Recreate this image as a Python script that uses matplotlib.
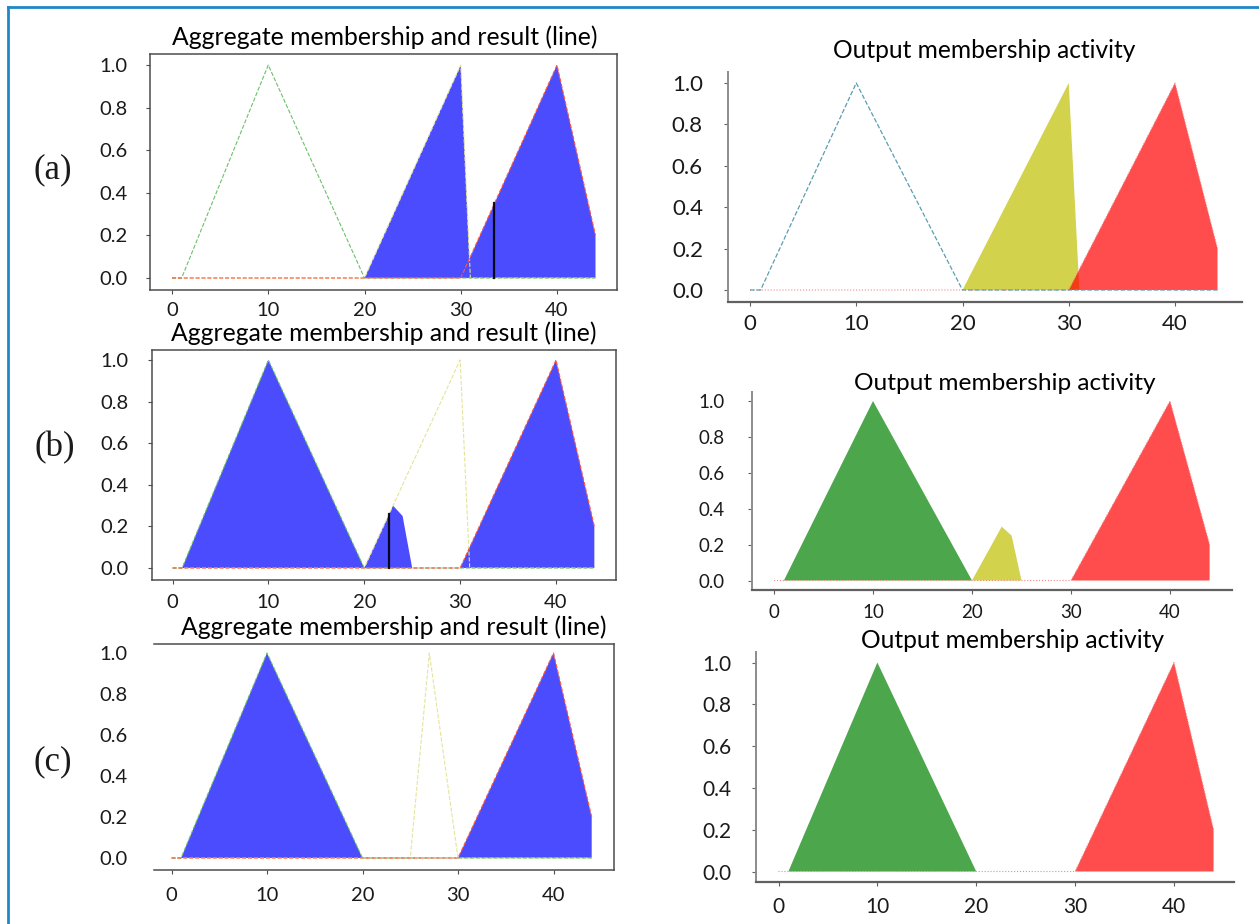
import matplotlib
matplotlib.use('Agg')
import matplotlib.pyplot as plt
from matplotlib.lines import Line2D

plt.rcParams['font.family'] = ['Lato', 'DejaVu Sans']

# ---------------- data ----------------
x_ticks = [0, 10, 20, 30, 40]
y_ticks = [0.0, 0.2, 0.4, 0.6, 0.8, 1.0]
y_ticklabels = ['0.0', '0.2', '0.4', '0.6', '0.8', '1.0']

# membership functions (vertices)
low_x = [0, 1, 10, 20, 44]
low_y = [0, 0, 1, 0, 0]
mid_ab_x = [0, 20, 30, 31, 44]
mid_ab_y = [0, 0, 1, 0, 0]
mid_c_x = [0, 25, 27, 30, 44]
mid_c_y = [0, 0, 1, 0, 0]
high_x = [0, 30, 40, 44]
high_y = [0, 0, 1, 0.2]

# aggregated membership
agg_a_x = [20, 30, 30.9, 40, 44]
agg_a_y = [0, 1, 0.09, 1, 0.2]
agg_b_x = [1, 10, 20, 23, 24, 25, 30, 40, 44]
agg_b_y = [0, 1, 0, 0.3, 0.25, 0, 0, 1, 0.2]
agg_c_x = [1, 10, 20, 30, 40, 44]
agg_c_y = [0, 1, 0, 0, 1, 0.2]

# output activations
act_low_x = [1, 10, 20]
act_low_y = [0, 1, 0]
act_mid_a_x = [20, 30, 31]
act_mid_a_y = [0, 1, 0]
act_mid_b_x = [20, 23, 24, 25]
act_mid_b_y = [0, 0.3, 0.25, 0]
act_high_x = [30, 40, 44]
act_high_y = [0, 1, 0.2]

# defuzzified results (x, membership)
result_a = (33.5, 0.35)
result_b = (22.6, 0.26)

title_left = 'Aggregate membership and result (line)'
title_right = 'Output membership activity'
panel_labels = ['(a)', '(b)', '(c)']

# ---------------- layout ----------------
W, H = 1259, 924
fig = plt.figure(figsize=(W / 100, H / 100), dpi=100)
renderer = fig.canvas.get_renderer()


def make_ax(l, r, t, b, x0, x40, y0, y1):
    ax = fig.add_axes([l / W, 1 - b / H, (r - l) / W, (b - t) / H])
    ppx = (x40 - x0) / 40.0
    ax.set_xlim(-(x0 - l) / ppx, 40 + (r - x40) / ppx)
    ppy = (y0 - y1)
    ax.set_ylim(-(b - y0) / ppy, 1 + (y1 - t) / ppy)
    ax.set_xticks(x_ticks)
    ax.set_yticks(y_ticks)
    ax.set_yticklabels(y_ticklabels)
    return ax


def fitted_text(cx, cy, s, target_w, **kw):
    t = fig.text(cx / W, 1 - cy / H, s, ha='center', va='center', fontsize=15, **kw)
    w = t.get_window_extent(renderer).width
    t.set_fontsize(15 * target_w / w)
    return t


def style_left(ax, fs, ypad, xpad, hide_left=False):
    for s in ax.spines.values():
        s.set_color('#4d4d4d')
        s.set_linewidth(1.1)
    ax.tick_params(axis='both', length=3, width=0.8, colors='#4d4d4d', labelcolor='#1a1a1a',
                   labelsize=fs)
    ax.tick_params(axis='y', pad=ypad)
    ax.tick_params(axis='x', pad=xpad)
    if hide_left:
        ax.spines['left'].set_visible(False)
        ax.tick_params(axis='y', length=0, pad=ypad + 3)


def style_right(ax, fs, ypad, xpad):
    ax.spines['top'].set_visible(False)
    ax.spines['right'].set_visible(False)
    ax.spines['left'].set_color('#8c8c8c')
    ax.spines['bottom'].set_color('#606060')
    ax.spines['left'].set_linewidth(1.4)
    ax.spines['bottom'].set_linewidth(1.6)
    ax.get_xaxis().tick_bottom()
    ax.get_yaxis().tick_left()
    ax.tick_params(axis='both', length=3, width=0.8, colors='#606060', labelcolor='#1a1a1a',
                   labelsize=fs)
    ax.tick_params(axis='y', pad=ypad)
    ax.tick_params(axis='x', pad=xpad)


def draw_aggregate(ax, agg_x, agg_y, mid_x, mid_y, result=None):
    ax.fill_between(agg_x, 0, agg_y, facecolor='b', alpha=0.7, linewidth=0)
    ax.plot(mid_x, mid_y, color='#e4e49a', linewidth=0.8, linestyle='--')
    ax.plot(low_x, low_y, color='#6cc06c', linewidth=0.8, linestyle='--')
    ax.plot(high_x, high_y, color='#ff5a3c', linewidth=0.8, linestyle='--')
    if result is not None:
        ax.plot([result[0], result[0]], [0, result[1]], 'k', linewidth=1.6, alpha=0.9)


def draw_activity(ax, fills):
    for fx, fy, col in fills:
        ax.fill_between(fx, 0, fy, facecolor=col, alpha=0.7, linewidth=0)
    ax.plot(high_x, high_y, color='#f08a8a', linewidth=0.8, linestyle=':')


# ---- (a) left
axAL = make_ax(150, 617, 54, 290, 172, 557, 278, 65)
draw_aggregate(axAL, agg_a_x, agg_a_y, mid_ab_x, mid_ab_y, result_a)
style_left(axAL, 14.5, 13, 6)
fitted_text(385, 37, title_left, 426)

# ---- (a) right
axAR = make_ax(728, 1242, 72, 302, 750, 1175, 290, 83)
draw_activity(axAR, [(act_mid_a_x, act_mid_a_y, 'y'), (act_high_x, act_high_y, 'r')])
axAR.plot(low_x, low_y, color='#5b9db2', linewidth=0.9, linestyle='--')
style_right(axAR, 16, 15, 6)
fitted_text(984, 50, title_right, 303)

# ---- (b) left
axBL = make_ax(152, 616, 350, 580, 172.5, 556, 568, 360)
draw_aggregate(axBL, agg_b_x, agg_b_y, mid_ab_x, mid_ab_y, result_b)
style_left(axBL, 14.5, 14, 7)
fitted_text(384, 333, title_left, 426)

# ---- (b) right
axBR = make_ax(752, 1232, 392, 590, 774, 1170, 580.5, 401)
draw_activity(axBR, [(act_low_x, act_low_y, 'g'), (act_mid_b_x, act_mid_b_y, 'y'),
                     (act_high_x, act_high_y, 'r')])
style_right(axBR, 13.5, 17, 7)
fitted_text(1005, 384, title_right, 301)

# ---- (c) left
axCL = make_ax(154, 614, 644, 870, 171.5, 553.5, 858, 653)
draw_aggregate(axCL, agg_c_x, agg_c_y, mid_c_x, mid_c_y)
style_left(axCL, 14.5, 16, 9, hide_left=True)
fitted_text(394, 627, title_left, 426)

# ---- (c) right
axCR = make_ax(756, 1234, 652, 882, 778.5, 1174, 871.5, 662.5)
draw_activity(axCR, [(act_low_x, act_low_y, 'g'), (act_high_x, act_high_y, 'r')])
style_right(axCR, 15, 15, 8)
fitted_text(1013, 640, title_right, 305)

# panel letters
for lab, (cx, cy) in zip(panel_labels, [(53, 170), (55, 448), (53, 762)]):
    fig.text(cx / W, 1 - cy / H, lab, ha='center', va='center', fontsize=25,
             family=['Liberation Serif', 'DejaVu Serif'], color='#1a1a1a')

# blue frame (top and left edges)
fig.add_artist(Line2D([8 / W, 1], [1 - 7 / H, 1 - 7 / H], transform=fig.transFigure,
                      color='#1f88c7', linewidth=2))
fig.add_artist(Line2D([8 / W, 8 / W], [1 - 7 / H, 0], transform=fig.transFigure,
                      color='#1f88c7', linewidth=2))

fig.savefig('out.png', dpi=100)
